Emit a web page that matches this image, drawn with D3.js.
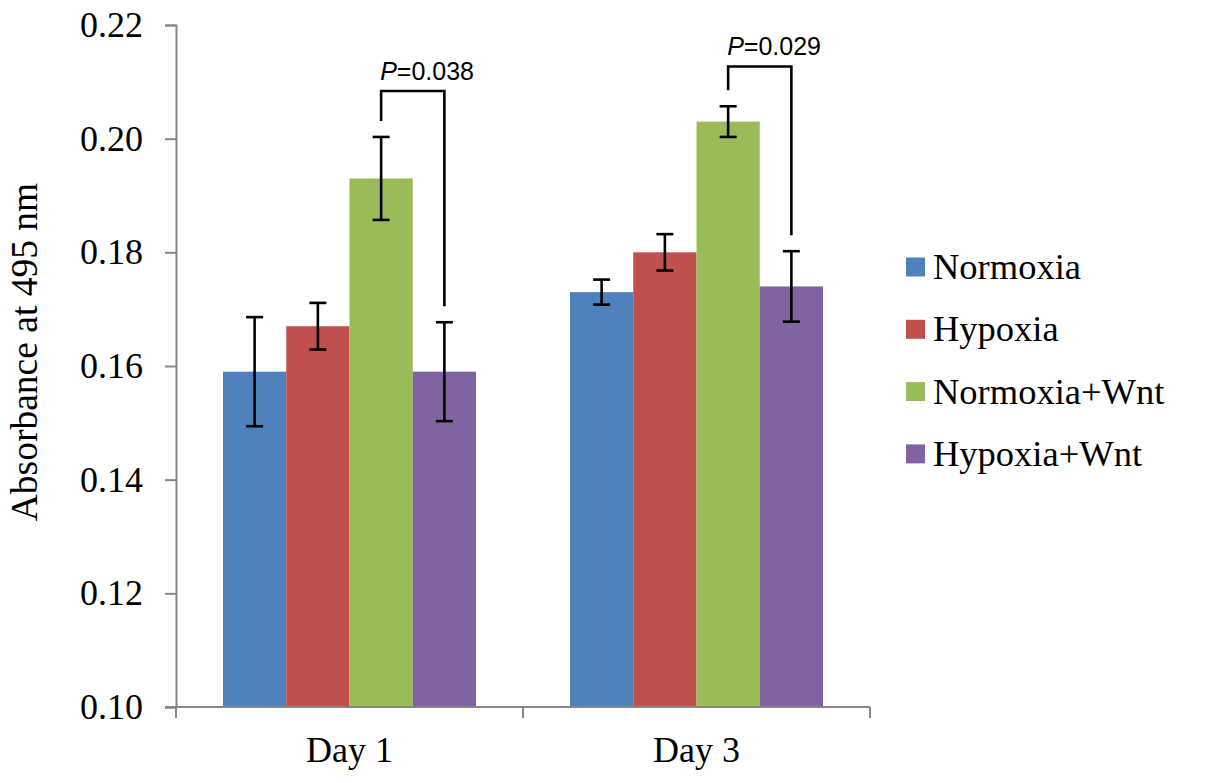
<!DOCTYPE html>
<html>
<head>
<meta charset="utf-8">
<script src="https://cdn.jsdelivr.net/npm/d3@7"></script>
<style>
  body { margin: 0; background: #fff; }
  text { font-family: "Liberation Serif", "Times New Roman", serif; }
</style>
</head>
<body>
<div id="chart"></div>
<script>
// Data
const days = ["Day 1", "Day 3"];
const groups = ["Normoxia", "Hypoxia", "Normoxia+Wnt", "Hypoxia+Wnt"];
const colors = ["#4F81BD", "#C0504D", "#9BBB59", "#8064A2"];
const means = [
  [0.159, 0.167, 0.193, 0.159],   // Day 1
  [0.173, 0.180, 0.203, 0.174]    // Day 3
];
const errors = [
  [0.0096, 0.0041, 0.0073, 0.0087],
  [0.0022, 0.0032, 0.0027, 0.0062]
];
const yTicks = [0.10, 0.12, 0.14, 0.16, 0.18, 0.20, 0.22];
// significance brackets: day, the two groups compared, bracket height, label
const pDays = ["Day 1", "Day 3"];
const pFrom = ["Normoxia+Wnt", "Normoxia+Wnt"];
const pTo = ["Hypoxia+Wnt", "Hypoxia+Wnt"];
const pLevel = [0.2084, 0.2127];
const pValues = ["0.038", "0.029"];

const W = 1205, H = 783;
const svg = d3.select("#chart").append("svg")
  .attr("width", W)
  .attr("height", H);

// Scales
const x = d3.scaleBand().domain(days).range([176, 870]);
const xs = d3.scaleBand().domain(groups).range([47, x.bandwidth() - 47]);
const y = d3.scaleLinear().domain([0.10, 0.22]).range([707, 25]);

// flatten into one record per bar
const rows = [];
days.forEach((day, i) => {
  groups.forEach((g, j) => {
    rows.push({ day: day, group: g, color: colors[j], mean: means[i][j], err: errors[i][j] });
  });
});

// Bars
svg.append("g").selectAll("rect")
  .data(rows)
  .enter().append("rect")
  .attr("x", d => x(d.day) + xs(d.group))
  .attr("width", xs.bandwidth())
  .attr("y", d => y(d.mean))
  .attr("height", d => y(0.10) - y(d.mean))
  .style("fill", d => d.color);

// Error bars
const eb = svg.append("g")
  .attr("stroke", "#000")
  .attr("stroke-width", 2.6);
const cx = d => x(d.day) + xs(d.group) + xs.bandwidth() / 2;
eb.selectAll(".stem").data(rows).enter().append("line")
  .attr("x1", cx).attr("x2", cx)
  .attr("y1", d => y(d.mean + d.err))
  .attr("y2", d => y(d.mean - d.err));
eb.selectAll(".capTop").data(rows).enter().append("line")
  .attr("x1", d => cx(d) - 8.5).attr("x2", d => cx(d) + 8.5)
  .attr("y1", d => y(d.mean + d.err)).attr("y2", d => y(d.mean + d.err));
eb.selectAll(".capBot").data(rows).enter().append("line")
  .attr("x1", d => cx(d) - 8.5).attr("x2", d => cx(d) + 8.5)
  .attr("y1", d => y(d.mean - d.err)).attr("y2", d => y(d.mean - d.err));

// Y axis
const yAxis = svg.append("g")
  .attr("transform", "translate(176,0)")
  .call(d3.axisLeft(y).tickValues(yTicks).tickFormat(d3.format(".2f")).tickSize(11).tickPadding(22));
yAxis.select(".domain").attr("stroke", "#868686").attr("stroke-width", 2);
yAxis.selectAll(".tick line").attr("stroke", "#868686").attr("stroke-width", 2);
yAxis.selectAll(".tick text")
  .attr("fill", "#000")
  .style("font-family", "'Liberation Serif', 'Times New Roman', serif")
  .style("font-size", "36px");

// X axis (ticks between categories)
const xAxisG = svg.append("g").attr("transform", "translate(0,707)");
xAxisG.append("line")
  .attr("x1", 165).attr("x2", x.range()[1])
  .attr("stroke", "#868686").attr("stroke-width", 2);
xAxisG.selectAll(".sep")
  .data(days.map(d => x(d)).concat([x.range()[1]]))
  .enter().append("line")
  .attr("x1", d => d).attr("x2", d => d)
  .attr("y1", 0).attr("y2", 11)
  .attr("stroke", "#868686").attr("stroke-width", 2);
xAxisG.selectAll(".lab")
  .data(days)
  .enter().append("text")
  .attr("x", d => x(d) + x.bandwidth() / 2)
  .attr("y", 55)
  .attr("text-anchor", "middle")
  .style("font-size", "36px")
  .text(d => d);

// Y axis title
svg.append("text")
  .attr("transform", "translate(37,352) rotate(-90)")
  .attr("text-anchor", "middle")
  .style("font-size", "37.5px")
  .text("Absorbance at 495 nm");

// Significance brackets
const br = svg.append("g");
pDays.forEach((day, i) => {
  const di = days.indexOf(day);
  const a = groups.indexOf(pFrom[i]);
  const b = groups.indexOf(pTo[i]);
  const x1 = x(day) + xs(pFrom[i]) + xs.bandwidth() / 2;
  const x2 = x(day) + xs(pTo[i]) + xs.bandwidth() / 2;
  const top = y(pLevel[i]);
  const e1 = y(means[di][a] + errors[di][a]) - 16;
  const e2 = y(means[di][b] + errors[di][b]) - 16;
  br.append("path")
    .attr("d", `M${x1},${e1}V${top}H${x2}V${e2}`)
    .attr("fill", "none")
    .attr("stroke", "#000")
    .attr("stroke-width", 2.6);
  const t = br.append("text")
    .attr("x", x1 - 1)
    .attr("y", top - 11)
    .style("font-family", "'Liberation Sans', Arial, sans-serif")
    .style("font-size", "25px");
  t.append("tspan").style("font-style", "italic").text("P");
  t.append("tspan").text("=" + pValues[i]);
});

// Legend
const legend = svg.append("g").attr("transform", "translate(906,267)");
const items = legend.selectAll(".legend-item")
  .data(groups)
  .enter().append("g")
  .attr("class", "legend-item")
  .attr("transform", (d, i) => `translate(0,${i * 62.3})`);
items.append("rect")
  .attr("x", 0).attr("y", -9.5)
  .attr("width", 19).attr("height", 19)
  .style("fill", (d, i) => colors[i]);
items.append("text")
  .attr("x", 27)
  .attr("y", 12)
  .style("font-size", "36.5px")
  .text(d => d);
</script>
</body>
</html>
